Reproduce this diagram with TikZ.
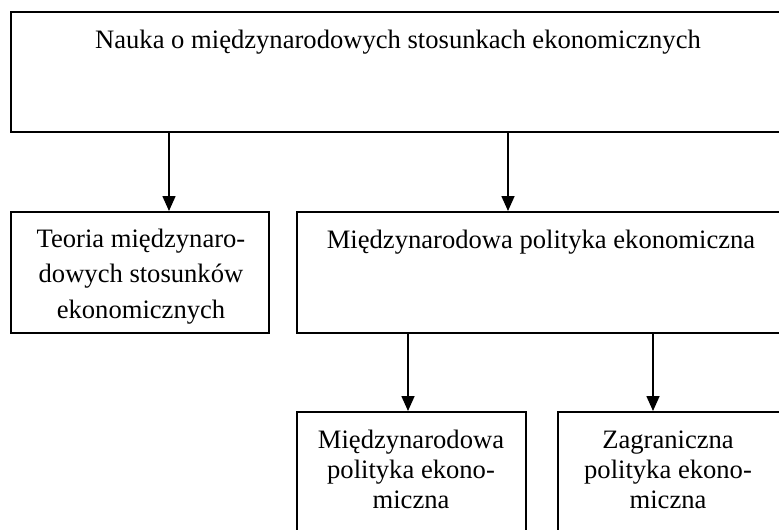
\documentclass[tikz,border=0pt]{standalone}
\usepackage{fontspec}
\setmainfont{Liberation Serif}
\usetikzlibrary{arrows.meta}
\begin{document}
\begin{tikzpicture}[x=1pt,y=-1pt,
  box/.style={draw=black,line width=2pt,inner sep=0pt,fill=none},
  lbl/.style={inner sep=0pt,align=center,anchor=base,font=\fontsize{26.6}{35.5}\selectfont},
  lbls/.style={inner sep=0pt,align=center,anchor=base,font=\fontsize{26.6}{30}\selectfont},
  conn/.style={line width=1.6pt,-{Triangle[length=15pt,width=13pt]}}]
\useasboundingbox (0,0) rectangle (779,530);
\clip (0,0) rectangle (779,530);
\node[box,minimum width=774pt,minimum height=120pt] (top) at (398,72) {};
\node[box,minimum width=258pt,minimum height=121pt] (teoria) at (140,272.5) {};
\node[box,minimum width=488pt,minimum height=121pt] (mpe) at (541,272.5) {};
\node[box,minimum width=229pt,minimum height=133pt] (bl) at (411.5,478.5) {};
\node[box,minimum width=232pt,minimum height=133pt] (br) at (674,478.5) {};
\node[lbl] (t1) at (398,48) {Nauka o międzynarodowych stosunkach ekonomicznych};
\node[lbl] (t2) at (141,318) {Teoria międzynaro-\\dowych stosunków\\ekonomicznych};
\node[lbl] (t3) at (541,248) {Międzynarodowa polityka ekonomiczna};
\node[lbls] (t4) at (411,508) {Międzynarodowa\\polityka ekono-\\miczna};
\node[lbls] (t5) at (668,508) {Zagraniczna\\polityka ekono-\\miczna};
\coordinate (xa) at (169,0);
\coordinate (xb) at (508,0);
\coordinate (xc) at (408,0);
\coordinate (xd) at (653,0);
\draw[conn] (top.south -| xa) -- (teoria.north -| xa);
\draw[conn] (top.south -| xb) -- (mpe.north -| xb);
\draw[conn] (mpe.south -| xc) -- (bl.north -| xc);
\draw[conn] (mpe.south -| xd) -- (br.north -| xd);
\end{tikzpicture}
\end{document}
